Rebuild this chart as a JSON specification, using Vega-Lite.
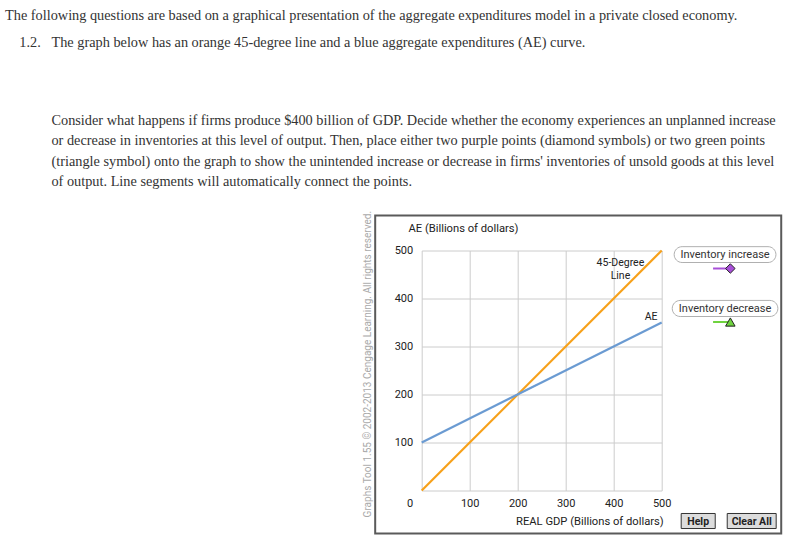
{
  "$schema": "https://vega.github.io/schema/vega-lite/v6.json",
  "width": 240,
  "height": 240,
  "autosize": {"type": "none"},
  "padding": {"left": 421.7, "top": 250.5, "right": 131.3, "bottom": 50.5},
  "background": "white",
  "title": {
    "text": [
      "The following questions are based on a graphical presentation of the aggregate expenditures model in a private closed economy.",
      "\u200b\u00a0\u00a0\u00a0\u00a01.2.\u00a0\u00a0\u00a0The graph below has an orange 45-degree line and a blue aggregate expenditures (AE) curve."
    ],
    "subtitle": [
      "\u200b\u00a0\u00a0\u00a0\u00a0\u00a0\u00a0\u00a0\u00a0\u00a0\u00a0\u00a0\u00a0\u00a0Consider what happens if firms produce $400 billion of GDP. Decide whether the economy experiences an unplanned increase",
      "\u200b\u00a0\u00a0\u00a0\u00a0\u00a0\u00a0\u00a0\u00a0\u00a0\u00a0\u00a0\u00a0\u00a0or decrease in inventories at this level of output. Then, place either two purple points (diamond symbols) or two green points",
      "\u200b\u00a0\u00a0\u00a0\u00a0\u00a0\u00a0\u00a0\u00a0\u00a0\u00a0\u00a0\u00a0\u00a0(triangle symbol) onto the graph to show the unintended increase or decrease in firms' inventories of unsold goods at this level",
      "\u200b\u00a0\u00a0\u00a0\u00a0\u00a0\u00a0\u00a0\u00a0\u00a0\u00a0\u00a0\u00a0\u00a0of output. Line segments will automatically connect the points."
    ],
    "anchor": "start",
    "frame": "group",
    "orient": "top",
    "dx": -416.7,
    "dy": 8.5,
    "offset": 30,
    "font": "Liberation Serif",
    "fontSize": 14.3,
    "fontWeight": "normal",
    "color": "#333333",
    "lineHeight": 26.5,
    "subtitleFont": "Liberation Serif",
    "subtitleFontSize": 14.3,
    "subtitleColor": "#333333",
    "subtitleLineHeight": 20.3,
    "subtitlePadding": 64
  },
  "config": {
    "view": {"stroke": null},
    "axis": {
      "labelFont": "Roboto",
      "labelFontSize": 11,
      "labelColor": "#222222",
      "titleFont": "Roboto",
      "titleFontSize": 11.2,
      "titleFontWeight": "normal",
      "titleColor": "#222222",
      "gridColor": "#cccccc",
      "gridWidth": 1,
      "ticks": false,
      "domain": false,
      "labelFlush": false,
      "labelOverlap": false
    }
  },
  "datasets": {
    "curves": [
      {"series": "45-Degree Line", "gdp": 0, "ae": 0},
      {"series": "45-Degree Line", "gdp": 500, "ae": 500},
      {"series": "AE", "gdp": 0, "ae": 100},
      {"series": "AE", "gdp": 500, "ae": 350}
    ],
    "curveLabels": [
      {"label": "45-Degree\nLine", "gdp": 414, "ae": 473},
      {"label": "AE", "gdp": 478, "ae": 362}
    ],
    "frame": [
      {"gdp": -96.9, "gdp2": 749, "ae": 573, "ae2": -89.6}
    ],
    "paletteBoxes": [
      {"item": "Inventory increase", "gdp": 526, "gdp2": 738, "ae": 508, "ae2": 475},
      {"item": "Inventory decrease", "gdp": 522, "gdp2": 742, "ae": 396, "ae2": 362.5}
    ],
    "paletteLabels": [
      {"item": "Inventory increase", "gdp": 632, "ae": 491.5},
      {"item": "Inventory decrease", "gdp": 632, "ae": 379}
    ],
    "paletteTools": [
      {"item": "Inventory increase", "gdp": 607, "gdp2": 643, "ae": 462.5},
      {"item": "Inventory decrease", "gdp": 607, "gdp2": 643, "ae": 351}
    ],
    "buttons": [
      {"label": "Help", "gdp": 540.6, "gdp2": 611.5, "ae": -47.9, "ae2": -79.2, "cx": 576, "cy": -64.6},
      {"label": "Clear All", "gdp": 636.5, "gdp2": 738.5, "ae": -47.9, "ae2": -79.2, "cx": 687.5, "cy": -64.6}
    ],
    "credit": [
      {"text": "Graphs Tool 1.55 © 2002-2013 Cengage Learning. All rights reserved.", "gdp": -111.5, "ae": -56}
    ]
  },
  "layer": [
    {
      "data": {"name": "frame"},
      "mark": {"type": "rect", "filled": false, "stroke": "#5a5a5a", "strokeWidth": 2},
      "encoding": {
        "x": {"field": "gdp", "type": "quantitative", "scale": {"domain": [0, 500], "nice": false}},
        "x2": {"field": "gdp2"},
        "y": {"field": "ae", "type": "quantitative", "scale": {"domain": [0, 500], "nice": false}},
        "y2": {"field": "ae2"}
      }
    },
    {
      "data": {"name": "curves"},
      "mark": {"type": "line", "strokeWidth": 2.2},
      "encoding": {
        "x": {
          "field": "gdp", "type": "quantitative",
          "scale": {"domain": [0, 500], "nice": false},
          "axis": {
            "values": [0, 50, 100, 150, 200, 250, 300, 350, 400, 450, 500],
            "labelExpr": "datum.value % 100 == 0 && datum.value > 0 ? datum.label : ''",
            "labelPadding": 7,
            "title": "REAL GDP (Billions of dollars)",
            "titleAlign": "right",
            "titleAnchor": "end",
            "titleBaseline": "middle",
            "titleX": 241.5,
            "titleY": 31
          }
        },
        "y": {
          "field": "ae", "type": "quantitative",
          "scale": {"domain": [0, 500], "nice": false},
          "axis": {
            "values": [0, 50, 100, 150, 200, 250, 300, 350, 400, 450, 500],
            "labelExpr": "datum.value % 100 == 0 ? datum.label : ''",
            "labelPadding": 9,
            "labelOffset": {"condition": {"test": "datum.value == 0", "value": 13}, "value": 0},
            "title": "AE (Billions of dollars)",
            "titleAngle": 0,
            "titleAlign": "left",
            "titleBaseline": "middle",
            "titleX": -13.7,
            "titleY": -22
          }
        },
        "color": {
          "field": "series", "type": "nominal",
          "scale": {"domain": ["45-Degree Line", "AE"], "range": ["#f7a11a", "#6b9bd2"]},
          "legend": null
        }
      }
    },
    {
      "data": {"name": "curveLabels"},
      "mark": {"type": "text", "align": "center", "baseline": "middle", "lineBreak": "\n", "lineHeight": 12.5, "font": "Roboto", "fontSize": 10.5, "color": "#222222"},
      "encoding": {
        "x": {"field": "gdp", "type": "quantitative", "scale": {"domain": [0, 500], "nice": false}},
        "y": {"field": "ae", "type": "quantitative", "scale": {"domain": [0, 500], "nice": false}},
        "text": {"field": "label"}
      }
    },
    {
      "data": {"name": "paletteBoxes"},
      "mark": {"type": "rect", "fill": "white", "stroke": "#b0b0b0", "strokeWidth": 1, "cornerRadius": 8},
      "encoding": {
        "x": {"field": "gdp", "type": "quantitative", "scale": {"domain": [0, 500], "nice": false}},
        "x2": {"field": "gdp2"},
        "y": {"field": "ae", "type": "quantitative", "scale": {"domain": [0, 500], "nice": false}},
        "y2": {"field": "ae2"}
      }
    },
    {
      "data": {"name": "paletteLabels"},
      "mark": {"type": "text", "align": "center", "baseline": "middle", "font": "Roboto", "fontSize": 11, "color": "#333333"},
      "encoding": {
        "x": {"field": "gdp", "type": "quantitative", "scale": {"domain": [0, 500], "nice": false}},
        "y": {"field": "ae", "type": "quantitative", "scale": {"domain": [0, 500], "nice": false}},
        "text": {"field": "item"}
      }
    },
    {
      "data": {"name": "paletteTools"},
      "mark": {"type": "rule", "strokeWidth": 2},
      "encoding": {
        "x": {"field": "gdp", "type": "quantitative", "scale": {"domain": [0, 500], "nice": false}},
        "x2": {"field": "gdp2"},
        "y": {"field": "ae", "type": "quantitative", "scale": {"domain": [0, 500], "nice": false}},
        "stroke": {
          "field": "item", "type": "nominal",
          "scale": {"domain": ["Inventory increase", "Inventory decrease"], "range": ["#a84fd8", "#6fd33f"]},
          "legend": null
        }
      }
    },
    {
      "data": {"name": "paletteTools"},
      "mark": {"type": "point", "filled": true, "size": 90, "stroke": "#222222", "strokeWidth": 1, "opacity": 1},
      "encoding": {
        "x": {"field": "gdp2", "type": "quantitative", "scale": {"domain": [0, 500], "nice": false}},
        "y": {"field": "ae", "type": "quantitative", "scale": {"domain": [0, 500], "nice": false}},
        "shape": {
          "field": "item", "type": "nominal",
          "scale": {"domain": ["Inventory increase", "Inventory decrease"], "range": ["diamond", "triangle-up"]},
          "legend": null
        },
        "fill": {
          "field": "item", "type": "nominal",
          "scale": {"domain": ["Inventory increase", "Inventory decrease"], "range": ["#a84fd8", "#6fd33f"]},
          "legend": null
        }
      }
    },
    {
      "data": {"name": "buttons"},
      "mark": {"type": "rect", "fill": "#dcdcdc", "stroke": "#333333", "strokeWidth": 1},
      "encoding": {
        "x": {"field": "gdp", "type": "quantitative", "scale": {"domain": [0, 500], "nice": false}},
        "x2": {"field": "gdp2"},
        "y": {"field": "ae", "type": "quantitative", "scale": {"domain": [0, 500], "nice": false}},
        "y2": {"field": "ae2"}
      }
    },
    {
      "data": {"name": "buttons"},
      "mark": {"type": "text", "align": "center", "baseline": "middle", "font": "Roboto", "fontSize": 10.5, "fontWeight": "bold", "color": "#222222"},
      "encoding": {
        "x": {"field": "cx", "type": "quantitative", "scale": {"domain": [0, 500], "nice": false}},
        "y": {"field": "cy", "type": "quantitative", "scale": {"domain": [0, 500], "nice": false}},
        "text": {"field": "label"}
      }
    },
    {
      "data": {"name": "credit"},
      "mark": {"type": "text", "angle": 270, "align": "left", "baseline": "middle", "font": "Roboto", "fontSize": 10, "color": "#aaaaaa"},
      "encoding": {
        "x": {"field": "gdp", "type": "quantitative", "scale": {"domain": [0, 500], "nice": false}},
        "y": {"field": "ae", "type": "quantitative", "scale": {"domain": [0, 500], "nice": false}},
        "text": {"field": "text"}
      }
    }
  ]
}
